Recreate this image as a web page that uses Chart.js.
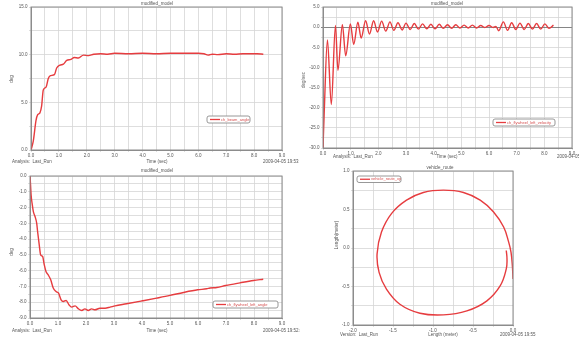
<!DOCTYPE html>
<html>
<head>
<meta charset="utf-8">
<script src="https://cdn.jsdelivr.net/npm/chart.js@4.4.1/dist/chart.umd.min.js"></script>
<style>
  body { margin: 0; background: #fff; }
  #wrap { position: relative; width: 579px; height: 341px; overflow: hidden; background: #fff; filter: blur(0.3px); }
  canvas { position: absolute; }
</style>
</head>
<body>
<div id="wrap">
  <canvas id="beam" width="300" height="172" style="left:0px;top:0px;width:300px;height:172px"></canvas>
  <canvas id="fly" width="289" height="168" style="left:290px;top:0px;width:289px;height:168px"></canvas>
  <canvas id="wheel" width="300" height="176" style="left:0px;top:165px;width:300px;height:176px"></canvas>
  <canvas id="route" width="289" height="176" style="left:290px;top:165px;width:289px;height:176px"></canvas>
</div>
<script>
// beam angle (deg) vs time (sec)
const beamTime = [0, 0.08, 0.18, 0.24, 0.32, 0.38, 0.44, 0.54, 0.62, 0.70, 0.84, 0.92, 1.04, 1.16, 1.28, 1.43, 1.55, 1.70, 1.88, 2.06, 2.25, 2.5, 2.75, 3.0, 3.5, 4.0, 4.5, 5.0, 5.5, 6.0, 6.2, 6.35, 6.5, 6.7, 7.0, 7.3, 7.6, 7.9, 8.1, 8.33];
const beamAngle = [0, 0.9, 3.1, 3.7, 3.9, 4.6, 6.3, 6.6, 7.5, 7.8, 7.9, 8.6, 8.9, 9.0, 9.4, 9.5, 9.7, 9.65, 9.95, 9.9, 10.05, 10.1, 10.05, 10.15, 10.1, 10.15, 10.1, 10.15, 10.15, 10.15, 10.1, 9.95, 10.05, 10.0, 10.1, 10.05, 10.1, 10.1, 10.1, 10.05];

// flywheel velocity (deg/sec) vs time (sec)
const flyTime = [0, 0.04, 0.16, 0.30, 0.45, 0.54, 0.70, 0.82, 0.99, 1.11, 1.26, 1.38, 1.54, 1.68, 1.83, 1.97, 2.12, 2.27, 2.42, 2.56, 2.71, 2.86, 3.00, 3.15, 3.30, 3.45, 3.60, 3.75, 3.90, 4.05, 4.20, 4.35, 4.50, 4.65, 4.80, 4.95, 5.10, 5.25, 5.40, 5.55, 5.70, 5.85, 6.00, 6.15, 6.25, 6.35, 6.52, 6.67, 6.82, 6.97, 7.12, 7.27, 7.42, 7.57, 7.72, 7.87, 8.02, 8.17, 8.33];
const flyVelocity = [-30, -22, -3.2, -19.2, 0.4, -10.7, 0.6, -7.1, 0.8, -4.3, 1.2, -2.7, 1.6, -1.7, 1.6, -1.2, 1.5, -1.0, 1.3, -0.8, 1.1, -0.7, 1.0, -0.6, 0.9, -0.5, 0.8, -0.4, 0.7, -0.4, 0.7, -0.3, 0.6, -0.3, 0.6, -0.2, 0.5, -0.2, 0.5, -0.2, 0.4, -0.1, 0.4, -0.1, 0.2, -0.9, 1.3, -0.8, 1.1, -0.6, 1.0, -0.6, 0.9, -0.5, 0.9, -0.5, 0.8, -0.3, 0.5];

// wheel angle (deg) vs time (sec)
const wheelTime = [0, 0.02, 0.04, 0.08, 0.12, 0.18, 0.24, 0.27, 0.33, 0.38, 0.45, 0.51, 0.57, 0.65, 0.74, 0.83, 0.93, 1.02, 1.11, 1.19, 1.29, 1.39, 1.49, 1.61, 1.73, 1.85, 1.96, 2.08, 2.2, 2.32, 2.5, 2.68, 2.86, 3.04, 3.45, 4.02, 4.52, 5.0, 5.48, 5.99, 6.31, 6.43, 6.67, 6.99, 7.5, 7.98, 8.33];
const wheelAngle = [0, -0.57, -1.2, -1.8, -2.26, -2.57, -3.0, -3.5, -4.37, -5.0, -5.1, -5.63, -6.05, -6.27, -6.58, -7.1, -7.32, -7.43, -7.85, -7.95, -7.89, -8.16, -8.31, -8.23, -8.42, -8.52, -8.42, -8.52, -8.42, -8.48, -8.38, -8.38, -8.31, -8.23, -8.1, -7.91, -7.74, -7.57, -7.38, -7.21, -7.15, -7.1, -7.07, -6.94, -6.77, -6.62, -6.54];

// vehicle route (meter)
const routeX = [0.0, -0.008, -0.025, -0.054, -0.117, -0.243, -0.41, -0.619, -0.87, -1.121, -1.331, -1.519, -1.644, -1.699, -1.674, -1.582, -1.414, -1.163, -0.87, -0.577, -0.326, -0.159, -0.084, -0.075, -0.084];
const routeY = [-0.403, -0.229, -0.054, 0.076, 0.272, 0.468, 0.621, 0.721, 0.752, 0.721, 0.621, 0.447, 0.207, -0.076, -0.316, -0.534, -0.73, -0.847, -0.869, -0.817, -0.686, -0.49, -0.272, -0.142, -0.033];

const RED = '#e63c3f';
const TEXT = '#555';
const FONT = '"Liberation Sans"';

Chart.defaults.font.family = 'Liberation Sans';
Chart.defaults.font.size = 4.5;
Chart.defaults.color = TEXT;

function toPoints(xs, ys) {
  return xs.map((x, i) => ({ x: x, y: ys[i] }));
}

function isMult(v, step) {
  const r = v / step;
  return Math.abs(r - Math.round(r)) < 1e-6;
}

function axis(min, max, step, labelStep, size, zeroLine) {
  return {
    type: 'linear', min: min, max: max,
    ticks: {
      stepSize: step, autoSkip: false, maxRotation: 0, padding: 1.5,
      callback: (v) => isMult(v, labelStep) ? Number(v).toFixed(1) : ''
    },
    grid: {
      tickLength: 2,
      lineWidth: 0.8,
      color: (c) => (zeroLine && c.tick && c.tick.value === 0) ? '#666' : '#d6d6d6'
    },
    border: { color: '#8c8c8c', width: 1 },
    afterFit: (s) => { if (s.isHorizontal()) s.height = size; else s.width = size; }
  };
}

// frame, free texts and the legend box
const panelText = {
  id: 'panelText',
  afterDraw(chart, args, opts) {
    const ctx = chart.ctx;
    const a = chart.chartArea;
    ctx.save();
    ctx.strokeStyle = '#8c8c8c';
    ctx.lineWidth = 1;
    ctx.strokeRect(a.left, a.top, a.right - a.left, a.bottom - a.top);
    ctx.fillStyle = TEXT;
    ctx.textBaseline = 'middle';
    (opts.texts || []).forEach((t) => {
      ctx.save();
      ctx.font = (t.size || 4.5) + 'px ' + FONT;
      ctx.textAlign = t.align || 'left';
      ctx.translate(t.x, t.y);
      if (t.rotate) ctx.rotate(-Math.PI / 2);
      ctx.fillText(t.text, 0, 0);
      ctx.restore();
    });
    const lg = opts.legend;
    if (lg) {
      ctx.fillStyle = '#fff';
      ctx.strokeStyle = '#8c8c8c';
      ctx.lineWidth = 0.9;
      ctx.beginPath();
      ctx.roundRect(lg.x, lg.y, lg.w, lg.h, 2);
      ctx.fill();
      ctx.stroke();
      const ds = chart.data.datasets[0];
      const my = lg.y + lg.h / 2;
      ctx.strokeStyle = ds.borderColor;
      ctx.lineWidth = 1.3;
      ctx.beginPath();
      ctx.moveTo(lg.x + 3, my);
      ctx.lineTo(lg.x + 13, my);
      ctx.stroke();
      ctx.fillStyle = '#d65050';
      ctx.font = '4px ' + FONT;
      ctx.textAlign = 'left';
      ctx.fillText(ds.label, lg.x + 14, my);
    }
    ctx.restore();
  }
};
Chart.register(panelText);

function makePanel(id, cfg) {
  return new Chart(document.getElementById(id), {
    type: 'scatter',
    data: {
      datasets: [{
        label: cfg.label,
        data: toPoints(cfg.xs, cfg.ys),
        showLine: true,
        borderColor: RED,
        borderWidth: 1.4,
        pointRadius: 0,
        tension: cfg.tension || 0,
        cubicInterpolationMode: cfg.monotone ? 'monotone' : 'default'
      }]
    },
    options: {
      responsive: false,
      animation: false,
      devicePixelRatio: 1,
      layout: { padding: cfg.padding },
      scales: { x: cfg.x, y: cfg.y },
      plugins: {
        legend: { display: false },
        tooltip: { enabled: false },
        panelText: { texts: cfg.texts, legend: cfg.legend }
      }
    }
  });
}

makePanel('beam', {
  label: 'ch_beam_angle', xs: beamTime, ys: beamAngle, monotone: true,
  padding: { left: 0, right: 18, top: 7, bottom: 12 },
  x: axis(0, 9, 0.5, 1, 10),
  y: axis(0, 15, 2.5, 5, 31),
  legend: { x: 207, y: 116, w: 43, h: 7 },
  texts: [
    { text: 'modified_model', x: 157, y: 3.5, align: 'center' },
    { text: 'deg', x: 12, y: 79, align: 'center', rotate: true },
    { text: 'Analysis:  Last_Run', x: 12, y: 162 },
    { text: 'Time (sec)', x: 157, y: 162, align: 'center' },
    { text: '2009-04-05 19:53', x: 263, y: 162 }
  ]
});

makePanel('fly', {
  label: 'ch_flywheel_left_velocity', xs: flyTime, ys: flyVelocity, monotone: true,
  padding: { left: 0, right: 7, top: 7, bottom: 12 },
  x: axis(0, 9, 0.5, 1, 8),
  y: axis(-30, 5, 2.5, 5, 33, true),
  legend: { x: 203, y: 119, w: 62, h: 7 },
  texts: [
    { text: 'modified_model', x: 157, y: 3.5, align: 'center' },
    { text: 'deg/sec', x: 14, y: 80, align: 'center', rotate: true },
    { text: 'Analysis:  Last_Run', x: 43, y: 157 },
    { text: 'Time (sec)', x: 157, y: 157, align: 'center' },
    { text: '2009-04-05 19:53:12', x: 267, y: 157 }
  ]
});

makePanel('wheel', {
  label: 'ch_flywheel_left_angle', xs: wheelTime, ys: wheelAngle, monotone: true,
  padding: { left: 0, right: 18, top: 11, bottom: 13 },
  x: axis(0, 9, 0.5, 1, 10),
  y: axis(-9, 0, 0.5, 1, 30),
  legend: { x: 213, y: 136, w: 65, h: 7 },
  texts: [
    { text: 'modified_model', x: 157, y: 6, align: 'center' },
    { text: 'deg', x: 12, y: 87, align: 'center', rotate: true },
    { text: 'Analysis:  Last_Run', x: 12, y: 165.5 },
    { text: 'Time (sec)', x: 157, y: 165.5, align: 'center' },
    { text: '2009-04-05 19:52:46', x: 263, y: 165.5 }
  ]
});

makePanel('route', {
  label: 'vehicle_route_xy', xs: routeX, ys: routeY, tension: 0.4,
  padding: { left: 0, right: 66, top: 6, bottom: 6 },
  x: axis(-2, 0, 0.25, 0.5, 10),
  y: axis(-1, 1, 0.25, 0.5, 63),
  legend: { x: 67, y: 11, w: 44, h: 6.5 },
  texts: [
    { text: 'vehicle_route', x: 150, y: 3, align: 'center' },
    { text: 'Length(meter)', x: 47, y: 70, align: 'center', rotate: true },
    { text: 'Version:  Last_Run', x: 50, y: 170 },
    { text: 'Length (meter)', x: 153, y: 170, align: 'center' },
    { text: '2009-04-05 19:55', x: 210, y: 170 }
  ]
});
</script>
</body>
</html>
